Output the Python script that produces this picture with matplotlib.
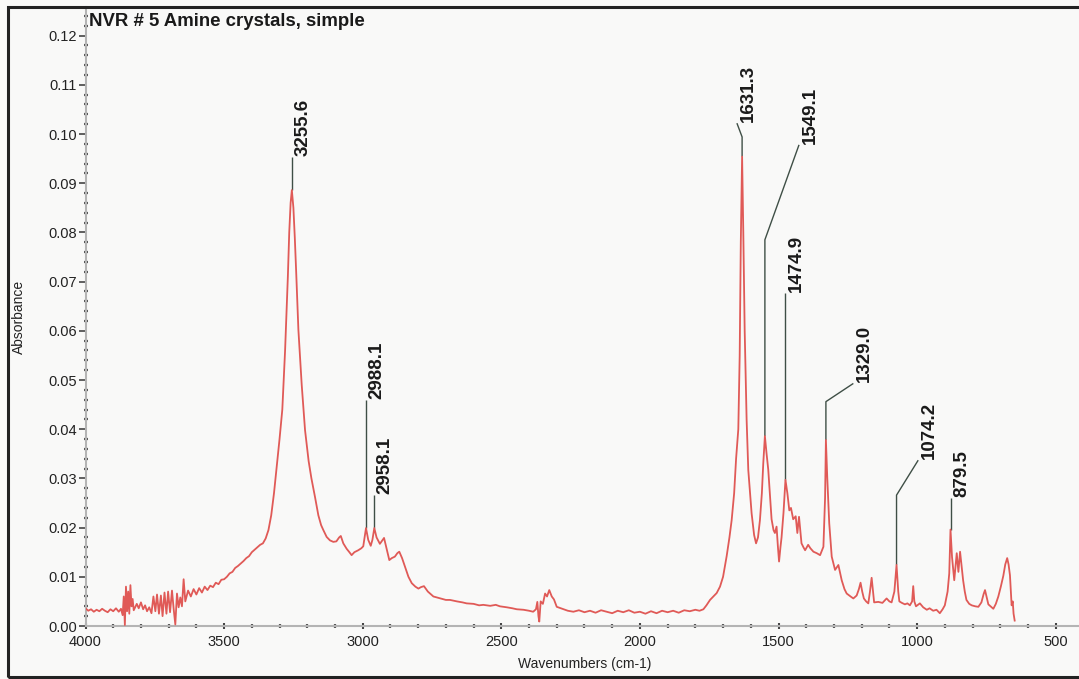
import numpy as np
import matplotlib
matplotlib.use("Agg")
import matplotlib.pyplot as plt
from matplotlib.patches import Rectangle
from matplotlib.ticker import MultipleLocator, FormatStrFormatter
import matplotlib.transforms as mtrans

# ---------------- data ----------------
wavenumber = [
    4000, 3990, 3980, 3970, 3960, 3950, 3940, 3930, 3920, 3910, 3900, 3890, 3880, 3872,
    3866, 3862, 3858, 3854, 3850, 3846, 3842, 3838, 3834, 3830, 3826,
    3815, 3808, 3800, 3792, 3785, 3778, 3770, 3762,
    3755, 3748, 3742, 3735, 3728, 3722, 3715, 3708, 3702, 3695, 3688, 3682, 3676, 3670,
    3664, 3658, 3652, 3646, 3640,
    3630, 3620, 3610, 3600, 3590, 3580, 3570, 3560, 3550, 3540, 3530, 3520, 3510, 3500,
    3490, 3480, 3470, 3460, 3450, 3440, 3430, 3420, 3410, 3400, 3390, 3380, 3370, 3360,
    3350, 3340, 3330, 3320, 3310, 3300, 3290, 3280, 3270, 3265, 3260, 3255.6, 3250, 3245,
    3240, 3232, 3220, 3208, 3195, 3185, 3172, 3160, 3150, 3142, 3130, 3118, 3106, 3095,
    3085, 3079, 3070, 3058, 3048, 3040, 3030, 3016, 3005, 2998, 2988.1, 2980, 2971, 2965,
    2958.1, 2950, 2938, 2923, 2915, 2904, 2895, 2884, 2875, 2868, 2858, 2847, 2835, 2823,
    2810, 2799, 2790, 2779, 2765, 2745, 2720, 2700, 2685, 2660, 2640, 2625, 2600, 2580,
    2565, 2540, 2520, 2505, 2480, 2460, 2444, 2420, 2400, 2385, 2375, 2370, 2366, 2363,
    2358, 2350, 2342, 2335, 2327, 2318, 2310, 2300, 2280, 2260, 2240, 2220, 2200, 2180,
    2160, 2140, 2120, 2100, 2080, 2060, 2040, 2020, 2000, 1980, 1960, 1940, 1920, 1900,
    1880, 1860, 1840, 1820, 1800, 1785, 1771, 1760, 1747, 1735, 1723, 1711, 1700, 1687,
    1677, 1669, 1660, 1653, 1645, 1640, 1636, 1631.3, 1627, 1622, 1615, 1609, 1597, 1588,
    1581, 1574, 1567, 1560, 1555, 1549.1, 1543, 1537, 1530, 1525, 1518, 1513, 1507, 1502,
    1498, 1493, 1489, 1482, 1474.9, 1468, 1461, 1455, 1447, 1438, 1432, 1426, 1420, 1417,
    1410, 1404, 1393, 1385, 1374, 1362, 1350, 1338, 1332, 1329.0, 1324, 1317, 1308, 1296,
    1284, 1272, 1262, 1254, 1240, 1230, 1218, 1210, 1204, 1198, 1192, 1184, 1176, 1170,
    1164, 1159, 1155, 1140, 1125, 1110, 1100, 1092, 1082, 1074.2, 1068, 1064, 1055, 1044,
    1035, 1026, 1018, 1014, 1010, 1004, 990, 978, 965, 955, 942, 930, 918, 908,
    900, 890, 884, 879.5, 874, 866, 857, 851, 845, 840, 834, 828, 822, 812,
    803, 790, 779, 768, 760, 755, 749, 743, 735, 725, 716, 707, 698, 689,
    682, 675, 670, 665, 661, 659, 655, 652, 648,
]
absorbance = [
    0.0036, 0.0031, 0.0034, 0.0029, 0.0033, 0.0030, 0.0035, 0.0031, 0.0028, 0.0034, 0.0030, 0.0036, 0.0029, 0.0035,
    0.0022, 0.0060, 0.0002, 0.0080, 0.0030, 0.0070, 0.0025, 0.0083, 0.0040, 0.0055, 0.0032,
    0.0045, 0.0036, 0.0048, 0.0034, 0.0042, 0.0030, 0.0038, 0.0026,
    0.0060, 0.0030, 0.0064, 0.0025, 0.0062, 0.0020, 0.0068, 0.0025, 0.0070, 0.0028, 0.0072, 0.0035, 0.0003, 0.0066,
    0.0038, 0.0058, 0.0040, 0.0095, 0.0050,
    0.0072, 0.0060, 0.0075, 0.0064, 0.0077, 0.0068, 0.0080, 0.0073, 0.0082, 0.0079, 0.0088, 0.0085, 0.0094, 0.0095,
    0.0100, 0.0107, 0.0110, 0.0118, 0.0122, 0.0127, 0.0132, 0.0138, 0.0142, 0.0150, 0.0155, 0.0160, 0.0165, 0.0168,
    0.0178, 0.0195, 0.0225, 0.0270, 0.0325, 0.0380, 0.0440, 0.0560, 0.0710, 0.0800, 0.0860, 0.0886, 0.0850, 0.0790,
    0.0720, 0.0602, 0.0490, 0.0398, 0.0335, 0.0300, 0.0262, 0.0225, 0.0205, 0.0195, 0.0181, 0.0174, 0.0171, 0.0172,
    0.0180, 0.0183, 0.0168, 0.0157, 0.0150, 0.0144, 0.0150, 0.0154, 0.0158, 0.0162, 0.0199, 0.0175, 0.0163, 0.0175,
    0.0199, 0.0180, 0.0167, 0.0179, 0.0160, 0.0134, 0.0138, 0.0141, 0.0148, 0.0151, 0.0138, 0.0120, 0.0100, 0.0087,
    0.0080, 0.0076, 0.0079, 0.0081, 0.0070, 0.0060, 0.0056, 0.0053, 0.0053, 0.0050, 0.0048, 0.0046, 0.0045, 0.0042,
    0.0043, 0.0041, 0.0043, 0.0040, 0.0038, 0.0036, 0.0034, 0.0033, 0.0031, 0.0029, 0.0034, 0.0049, 0.0020, 0.0009,
    0.0050, 0.0045, 0.0066, 0.0060, 0.0073, 0.0060, 0.0054, 0.0039, 0.0035, 0.0031, 0.0029, 0.0032, 0.0028, 0.0031,
    0.0027, 0.0032, 0.0029, 0.0026, 0.0031, 0.0028, 0.0032, 0.0027, 0.0029, 0.0025, 0.0030, 0.0026, 0.0031, 0.0028,
    0.0031, 0.0027, 0.0032, 0.0030, 0.0033, 0.0031, 0.0034, 0.0042, 0.0053, 0.0060, 0.0067, 0.0080, 0.0100, 0.0142,
    0.0180, 0.0215, 0.0270, 0.0340, 0.0400, 0.0550, 0.0780, 0.0954, 0.0800, 0.0600, 0.0419, 0.0317, 0.0229, 0.0185,
    0.0168, 0.0180, 0.0215, 0.0270, 0.0330, 0.0386, 0.0350, 0.0318, 0.0260, 0.0217, 0.0195, 0.0189, 0.0202, 0.0160,
    0.0131, 0.0160, 0.0180, 0.0230, 0.0297, 0.0270, 0.0235, 0.0240, 0.0217, 0.0223, 0.0189, 0.0222, 0.0185, 0.0168,
    0.0160, 0.0154, 0.0165, 0.0158, 0.0151, 0.0148, 0.0144, 0.0161, 0.0260, 0.0378, 0.0300, 0.0209, 0.0141, 0.0114,
    0.0124, 0.0093, 0.0075, 0.0066, 0.0060, 0.0056, 0.0062, 0.0075, 0.0088, 0.0070, 0.0056, 0.0050, 0.0046, 0.0070,
    0.0098, 0.0070, 0.0048, 0.0049, 0.0047, 0.0056, 0.0050, 0.0048, 0.0070, 0.0124, 0.0070, 0.0050, 0.0047, 0.0044,
    0.0046, 0.0042, 0.0050, 0.0081, 0.0050, 0.0040, 0.0046, 0.0038, 0.0033, 0.0036, 0.0031, 0.0033, 0.0026, 0.0034,
    0.0042, 0.0070, 0.0107, 0.0196, 0.0140, 0.0093, 0.0148, 0.0110, 0.0151, 0.0125, 0.0093, 0.0070, 0.0053, 0.0045,
    0.0042, 0.0040, 0.0039, 0.0048, 0.0065, 0.0073, 0.0058, 0.0044, 0.0040, 0.0035, 0.0045, 0.0060, 0.0080, 0.0102,
    0.0125, 0.0138, 0.0125, 0.0103, 0.0060, 0.0042, 0.0050, 0.0025, 0.0011,
]

peak_labels = [3255.6, 2988.1, 2958.1, 1631.3, 1549.1, 1474.9, 1329.0, 1074.2, 879.5]

title_text = "NVR # 5 Amine crystals, simple"
x_label = "Wavenumbers (cm-1)"
y_label = "Absorbance"

# leader layout: (height of vertical part, end wavenumber, end height)
leader_layout = {
    3255.6: (0.0953, 3255.6, 0.0953),
    2988.1: (0.0459, 2988.1, 0.0459),
    2958.1: (0.0266, 2958.1, 0.0266),
    1631.3: (0.0994, 1650.0, 0.1022),
    1549.1: (0.0785, 1426.0, 0.0978),
    1474.9: (0.0676, 1474.9, 0.0676),
    1329.0: (0.0456, 1230.0, 0.0493),
    1074.2: (0.0266, 996.0, 0.0337),
    879.5: (0.0260, 879.5, 0.0260),
}

# ---------------- figure ----------------
W, H, DPI = 1079, 679, 100
fig = plt.figure(figsize=(W / DPI, H / DPI), dpi=DPI)
bg = "#f9f9f8"
fig.patch.set_facecolor(bg)

ax_left, ax_right = 85.5, 1079.0
ax_top, ax_bottom = 7.0, 626.0
ax = fig.add_axes([ax_left / W, (H - ax_bottom) / H,
                   (ax_right - ax_left) / W, (ax_bottom - ax_top) / H])
ax.set_facecolor(bg)

ax.plot(wavenumber, absorbance, color="#e05a57", lw=1.3, zorder=3)

ax.set_xlim(4000, 4000 - (ax_right - ax_left) * 3.6075)
ax.set_ylim(0.0, (ax_bottom - ax_top) / 4920.0)

for s in ("top", "right"):
    ax.spines[s].set_visible(False)
for s in ("left", "bottom"):
    ax.spines[s].set_color("#b4b4b4")
    ax.spines[s].set_linewidth(1.5)

ax.xaxis.set_major_locator(MultipleLocator(500))
ax.xaxis.set_minor_locator(MultipleLocator(100))
ax.yaxis.set_major_locator(MultipleLocator(0.01))
ax.yaxis.set_minor_locator(MultipleLocator(0.002))
ax.yaxis.set_major_formatter(FormatStrFormatter("%.2f"))
ax.xaxis.set_major_formatter(FormatStrFormatter("%d"))

tick_font = ["Liberation Sans Narrow", "Liberation Sans", "DejaVu Sans"]
ax.tick_params(axis="y", which="major", direction="out", length=5, width=1.2,
               color="#444444", pad=1, labelsize=10.5, labelcolor="#222222")
ax.tick_params(axis="x", which="major", direction="inout", length=5, width=1.5,
               color="#444444", pad=4, labelsize=10.5, labelcolor="#222222")
ax.tick_params(axis="both", which="minor", direction="inout", length=2.5, width=1.6,
               color="#555555")
for lbl in ax.get_xticklabels() + ax.get_yticklabels():
    lbl.set_family(tick_font)

fig.text(19 / W, 1 - 317 / H, y_label, rotation=90, ha="center", va="center",
         fontsize=10, family=["Liberation Sans", "DejaVu Sans"], color="#222222")
fig.text(585 / W, 1 - 664 / H, x_label, ha="center", va="center",
         fontsize=10, family=["Liberation Sans", "DejaVu Sans"], color="#222222")
fig.text(89 / W, 1 - 22 / H, title_text, ha="left", va="center", fontsize=13.4,
         fontweight="bold", family=["Liberation Sans", "DejaVu Sans"], color="#1a1a1a")

# peak leaders and labels
wn_inc = np.array(wavenumber[::-1], dtype=float)
ab_inc = np.array(absorbance[::-1], dtype=float)
text_tr = mtrans.offset_copy(ax.transData, fig=fig, x=11, y=1, units="dots")
leader_color = "#3f4f46"
for pk in peak_labels:
    top = float(np.interp(pk, wn_inc, ab_inc))
    knee, ex, ey = leader_layout[pk]
    ax.plot([pk, pk, ex], [top, knee, ey], color=leader_color, lw=1.0, zorder=2,
            solid_capstyle="butt")
    ax.text(ex, ey, f"{pk:.1f}", transform=text_tr, rotation=90, ha="center",
            va="bottom", fontsize=13.5, fontweight="bold",
            family=["Liberation Sans", "DejaVu Sans"], color="#1a1a1a")

# outer frame
fig.patches.append(Rectangle((8 / W, 2 / H), 1.2, (677 - 7) / H, transform=fig.transFigure,
                             fill=False, edgecolor="#222222", lw=2.2, clip_on=False))

fig.savefig("out.png", dpi=DPI, facecolor=fig.get_facecolor())
